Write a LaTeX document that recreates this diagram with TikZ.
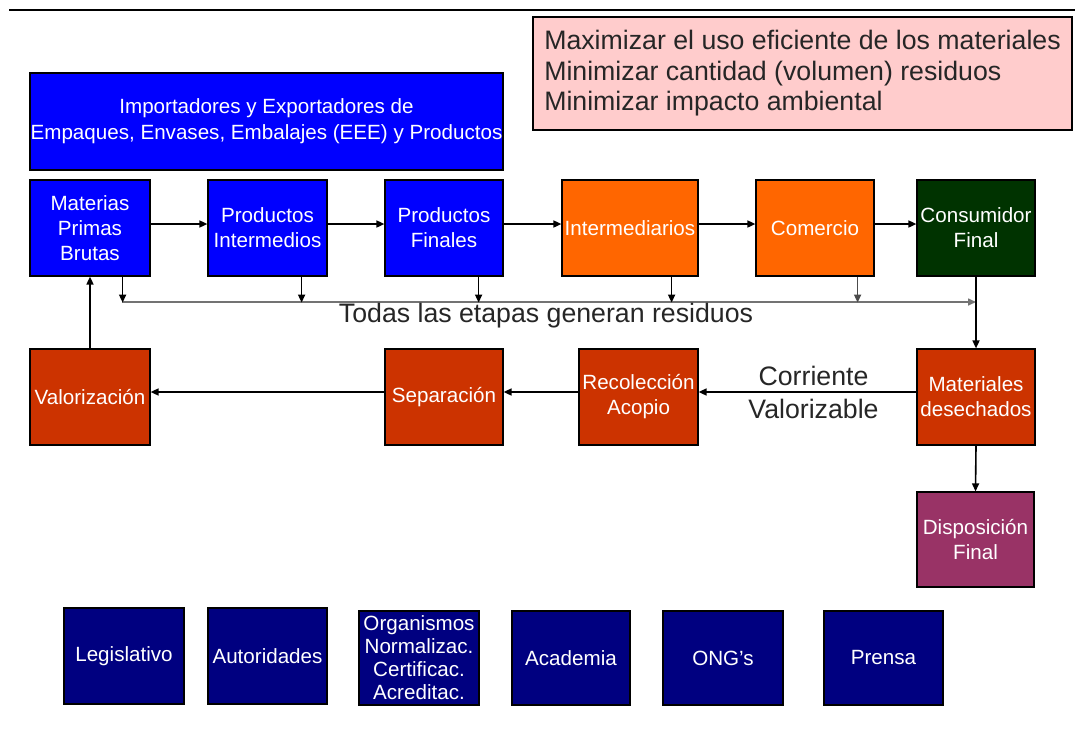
\documentclass[tikz,border=0pt]{standalone}
\usepackage{fontspec}
\setmainfont{Liberation Sans}
\usetikzlibrary{arrows.meta}
\definecolor{cblue}{HTML}{0000FF}
\definecolor{corange}{HTML}{FF6600}
\definecolor{cgreen}{HTML}{003300}
\definecolor{cred}{HTML}{CC3300}
\definecolor{cpurple}{HTML}{993366}
\definecolor{cnavy}{HTML}{000080}
\definecolor{cpink}{HTML}{FFCCCC}
\tikzset{
  box/.style={draw=black, line width=1.2pt, text=white, align=center, inner sep=0pt,
    font=\fontsize{20.6}{25}\selectfont, minimum width=119pt, minimum height=96pt},
  arr/.style={line width=1.6pt, -{Triangle[length=8pt,width=7pt]}},
  bigtext/.style={font=\fontsize{26.7}{32}\selectfont, text=black!85},
}
\begin{document}
\begin{tikzpicture}[x=1pt,y=-1pt]
\useasboundingbox (0,0) rectangle (1075,728);
\coordinate (tl) at (9,10);
\coordinate (tr) at (1075,10);
\draw[line width=1.4pt] (tl) -- (tr);

% goals box
\node[draw=black, line width=1.2pt, fill=cpink, minimum width=539pt, minimum height=113pt,
  align=left, inner sep=0pt, font=\fontsize{26.7}{30.5}\selectfont, text=black!85]
  (goals) at (802.5,73.5) {Maximizar el uso eficiente de los materiales\\Minimizar cantidad (volumen) residuos\\Minimizar impacto ambiental};

% importers box
\node[box, fill=cblue, minimum width=473pt, minimum height=97pt] (imp) at (266.5,121.5)
  {\raisebox{5pt}{\shortstack{Importadores y Exportadores de\\[4pt]Empaques, Envases, Embalajes (EEE) y Productos}}};

% top chain
\node[box, fill=cblue, minimum width=120pt] (mp) at (90,228) {Materias\\Primas\\Brutas};
\node[box, fill=cblue] (pi) at (267.5,228) {Productos\\Intermedios};
\node[box, fill=cblue, minimum width=118pt] (pf) at (444,228) {Productos\\Finales};
\node[box, fill=corange, minimum width=136pt] (int) at (630,228) {Intermediarios};
\node[box, fill=corange, minimum width=118pt] (com) at (815,228) {Comercio};
\node[box, fill=cgreen, minimum width=118pt] (cf) at (976,228) {Consumidor\\Final};

% bottom chain
\node[box, fill=cred, minimum width=120pt] (val) at (90,397) {Valorización};
\node[box, fill=cred, minimum width=118pt] (sep) at (444,397) {Separación};
\node[box, fill=cred] (rec) at (638.5,397) {Recolección\\Acopio};
\node[box, fill=cred, minimum width=118pt] (md) at (976,397) {Materiales\\desechados};
\node[box, fill=cpurple, minimum width=117pt, minimum height=95pt] (disp) at (975.5,539.5) {Disposición\\Final};

% actors
\node[box, fill=cnavy, minimum width=120pt] (leg) at (124,656) {Legislativo};
\node[box, fill=cnavy] (aut) at (267.5,656) {Autoridades};
\node[box, fill=cnavy, minimum width=120pt, minimum height=94pt, font=\fontsize{20.6}{23}\selectfont] (org) at (419,658) {Organismos\\Normalizac.\\Certificac.\\Acreditac.};
\node[box, fill=cnavy, minimum width=118pt, minimum height=94pt] (aca) at (571,658) {Academia};
\node[box, fill=cnavy, minimum width=120pt, minimum height=94pt] (ong) at (723,658) {ONG’s};
\node[box, fill=cnavy, minimum width=119pt, minimum height=94pt] (pre) at (883.5,658) {Prensa};

% main flow
\draw[arr] ([yshift=4pt]mp.east) -- ([yshift=4pt]pi.west);
\draw[arr] ([yshift=4pt]pi.east) -- ([yshift=4pt]pf.west);
\draw[arr] ([yshift=4pt]pf.east) -- ([yshift=4pt]int.west);
\draw[arr] ([yshift=4pt]int.east) -- ([yshift=4pt]com.west);
\draw[arr] ([yshift=4pt]com.east) -- ([yshift=4pt]cf.west);

% residues
\coordinate (r0) at (122,302);
\coordinate (r1) at (cf.south |- r0);
\draw[line width=1.5pt, black!55, -{Triangle[length=8pt,width=7pt]}] (r0) -- (r1);
\draw[arr] ([xshift=-28pt]mp.south east) -- ++(0,26);
\draw[arr] ([xshift=-26pt]pi.south east) -- ++(0,26);
\draw[arr] ([xshift=-25pt]pf.south east) -- ++(0,26);
\draw[arr] ([xshift=-27pt]int.south east) -- ++(0,26);
\draw[arr, black!70] ([xshift=-17pt]com.south east) -- ++(0,26);
\node[bigtext] (todas) at (546,316) {Todas las etapas generan residuos};

\draw[arr] (cf.south) -- (md.north);
\draw[arr] ([yshift=5pt]md.west) -- ([yshift=5pt]rec.east)
  node[midway, xshift=6pt, bigtext, align=center, font=\fontsize{26.7}{33}\selectfont] (corr) {Corriente\\Valorizable};
\draw[arr] ([yshift=5pt]rec.west) -- ([yshift=5pt]sep.east);
\draw[arr] ([yshift=5pt]sep.west) -- ([yshift=5pt]val.east);
\draw[arr] (val.north) -- (mp.south);
\draw[arr] (md.south) -- (disp.north);
\end{tikzpicture}
\end{document}
